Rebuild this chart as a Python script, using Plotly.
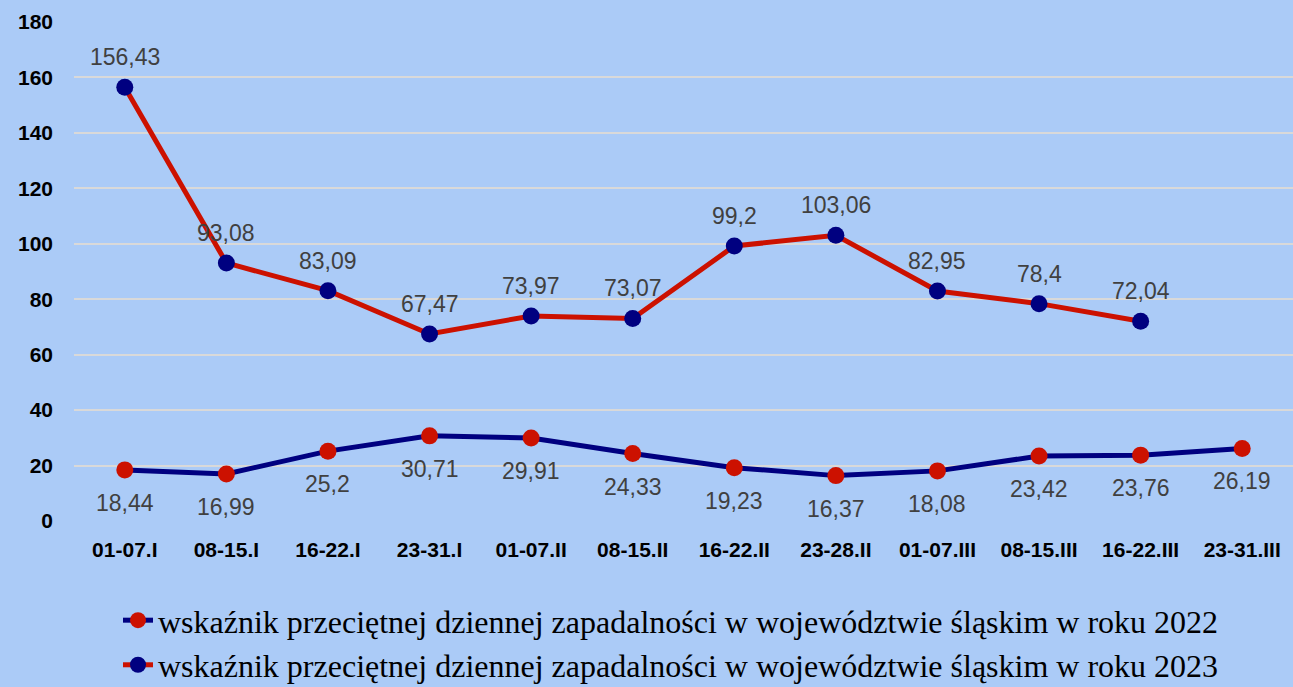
import plotly.graph_objects as go

categories = ["01-07.I", "08-15.I", "16-22.I", "23-31.I", "01-07.II", "08-15.II",
              "16-22.II", "23-28.II", "01-07.III", "08-15.III", "16-22.III", "23-31.III"]
values_2022 = [18.44, 16.99, 25.2, 30.71, 29.91, 24.33, 19.23, 16.37, 18.08, 23.42, 23.76, 26.19]
values_2023 = [156.43, 93.08, 83.09, 67.47, 73.97, 73.07, 99.2, 103.06, 82.95, 78.4, 72.04, None]
name_2022 = "wskaźnik przeciętnej dziennej zapadalności w województwie śląskim w roku 2022"
name_2023 = "wskaźnik przeciętnej dziennej zapadalności w województwie śląskim w roku 2023"

def fmt(v):
    s = ("%.2f" % v).rstrip("0").rstrip(".")
    return s.replace(".", ",")

NAVY = "#000080"
RED = "#cc1100"
BG = "#abcbf7"
LABEL_FONT = dict(family="Liberation Sans", size=23, color="#404040")

fig = go.Figure()
fig.add_trace(go.Scatter(
    x=categories, y=values_2022, name=name_2022, mode="lines+markers",
    line=dict(color=NAVY, width=5), marker=dict(color=RED, size=17),
    cliponaxis=False,
))
fig.add_trace(go.Scatter(
    x=categories, y=values_2023, name=name_2023, mode="lines+markers",
    line=dict(color=RED, width=5), marker=dict(color=NAVY, size=17),
    cliponaxis=False,
))

annotations = []
for c, v in zip(categories, values_2022):
    annotations.append(dict(x=c, y=v, text=fmt(v), showarrow=False, yshift=-33,
                            yanchor="middle", font=LABEL_FONT))
for c, v in zip(categories, values_2023):
    if v is None:
        continue
    annotations.append(dict(x=c, y=v, text=fmt(v), showarrow=False, yshift=30,
                            yanchor="middle", font=LABEL_FONT))

fig.update_layout(
    width=1293, height=687,
    paper_bgcolor=BG, plot_bgcolor=BG,
    margin=dict(l=74, r=0, t=22, b=166, autoexpand=False),
    annotations=annotations,
    xaxis=dict(type="category", range=[-0.5, len(categories) - 0.5], automargin=False,
               showgrid=False, zeroline=False, showline=False,
               ticks="", ticklabelstandoff=14,
               tickfont=dict(family="Liberation Sans", size=21, color="black", weight="bold")),
    yaxis=dict(range=[0, 180], dtick=20, showgrid=True, gridcolor="#d9d9d9", gridwidth=2,
               automargin=False,
               zeroline=False, showline=False, ticks="", ticklabelstandoff=20,
               tickfont=dict(family="Liberation Sans", size=21, color="black", weight="bold")),
    legend=dict(orientation="v", xref="container", x=118 / 1293, xanchor="left",
                yref="container", y=0.137, yanchor="top",
                bgcolor="rgba(0,0,0,0)",
                font=dict(family="Liberation Serif", size=32, color="black")),
    showlegend=True,
)

fig.write_html("out.html", config={"displayModeBar": False},
               post_script="document.body.style.margin='0';document.body.style.overflow='hidden';")
